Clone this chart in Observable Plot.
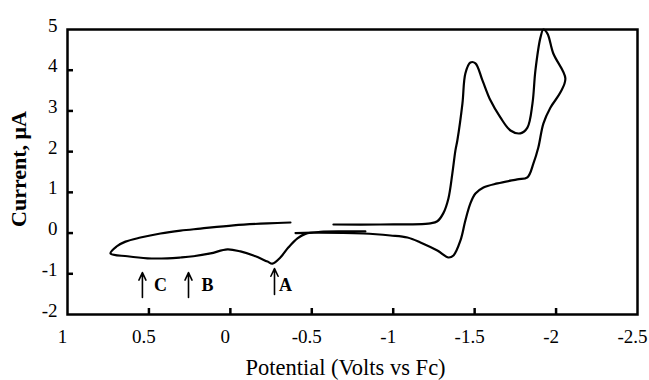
<!DOCTYPE html>
<html>
<head>
<meta charset="utf-8">
<script src="https://cdn.jsdelivr.net/npm/d3@7"></script>
<script src="https://cdn.jsdelivr.net/npm/@observablehq/plot@0.6"></script>
<style>
  html, body { margin: 0; padding: 0; background: #fff; }
</style>
</head>
<body>
<div id="chart"></div>
<script>
// Scan 1: small loop (upper line leftwards, tip, lower line with C, B, A features)
const loop1V = [-0.369, -0.228, -0.019, 0.184, 0.306, 0.429, 0.552, 0.644, 0.699, 0.736,
                0.632, 0.509, 0.386, 0.306, 0.227, 0.122, 0.018, -0.062, -0.142, -0.228,
                -0.258, -0.307, -0.357, -0.412, -0.461, -0.553, -0.707, -0.829];
const loop1I = [0.26, 0.24, 0.19, 0.11, 0.06, -0.01, -0.11, -0.21, -0.33, -0.50,
                -0.57, -0.62, -0.62, -0.60, -0.57, -0.50, -0.40, -0.45, -0.55, -0.70,
                -0.75, -0.60, -0.35, -0.13, -0.02, 0.03, 0.04, 0.04];

// Scan 2: large loop (two reduction waves, switching point, return)
const loop2V = [-0.633, -0.921, -1.228, -1.271, -1.308, -1.339, -1.363, -1.382, -1.394, -1.425,
                -1.443, -1.474, -1.505, -1.548, -1.597, -1.658, -1.720, -1.781, -1.824, -1.855,
                -1.873, -1.904, -1.922, -1.947, -1.983, -2.057, -2.026, -1.965, -1.922, -1.891,
                -1.861, -1.824, -1.762, -1.640, -1.554, -1.505, -1.474, -1.443, -1.413, -1.370,
                -1.339, -1.271, -1.167, -1.087, -0.983, -0.817, -0.510, -0.400];
const loop2I = [0.21, 0.21, 0.24, 0.29, 0.49, 0.85, 1.46, 2.03, 2.28, 3.18,
                3.92, 4.19, 4.17, 3.75, 3.26, 2.84, 2.52, 2.45, 2.59, 3.18,
                3.99, 4.80, 5.00, 4.90, 4.41, 3.80, 3.45, 3.08, 2.69, 2.10,
                1.71, 1.37, 1.32, 1.22, 1.12, 0.97, 0.73, 0.31, -0.18, -0.55,
                -0.60, -0.43, -0.23, -0.11, -0.06, -0.01, 0.01, 0.00];

const xTicks = [1, 0.5, 0, -0.5, -1, -1.5, -2, -2.5];
const xTickLabels = ["1", "0.5", "0", "-0.5", "-1", "-1.5", "-2", "-2.5"];
const yTicks = [-2, -1, 0, 1, 2, 3, 4, 5];
const yTickLabels = ["-2", "-1", "0", "1", "2", "3", "4", "5"];

const peakNames = ["C", "B", "A"];
const arrowV = [0.540, 0.257, -0.271];
const arrowTopI = [-0.97, -0.97, -0.87];
const arrowBottomI = [-1.58, -1.58, -1.51];
const letterV = [0.429, 0.141, -0.338];
const letterI = [-1.29, -1.29, -1.29];

const xTitle = "Potential (Volts vs Fc)";
const yTitle = "Current, \u03bcA";

const cv = [];
loop1V.forEach((v, i) => cv.push({scan: 1, V: v, I: loop1I[i]}));
loop2V.forEach((v, i) => cv.push({scan: 2, V: v, I: loop2I[i]}));

const arrows = peakNames.map((n, i) => ({name: n, x: arrowV[i], y1: arrowBottomI[i], y2: arrowTopI[i], lx: letterV[i], ly: letterI[i]}));

const width = 649, height = 380;
const mL = 67, mR = 12, mT = 29, mB = 66;
const fw = width - mL - mR, fh = height - mT - mB;
const tickLen = 6;

const chart = Plot.plot({
  width, height,
  marginLeft: mL, marginRight: mR, marginTop: mT, marginBottom: mB,
  style: {fontFamily: "'Liberation Serif', 'Times New Roman', serif", fontSize: "19px", color: "#000", background: "#fff", overflow: "visible"},
  x: {domain: [1, -2.5], axis: null},
  y: {domain: [-2, 5], axis: null},
  marks: [
    Plot.line(cv, {x: "V", y: "I", z: "scan", curve: "catmull-rom", stroke: "#000", strokeWidth: 2.2, strokeLinejoin: "round", strokeLinecap: "round"}),
    Plot.ruleX(xTicks.slice(1, -1), {x: d => d, insetTop: fh - tickLen, stroke: "#000", strokeWidth: 2.5}),
    Plot.ruleY(yTicks.slice(1, -1), {y: d => d, insetRight: fw - tickLen, stroke: "#000", strokeWidth: 2.5}),
    Plot.frame({stroke: "#000", strokeWidth: 2.5}),
    Plot.text(xTicks, {x: d => d, frameAnchor: "bottom", text: (d, i) => xTickLabels[i], dy: 22, dx: -5, fontSize: 19, lineAnchor: "middle", fill: "#000"}),
    Plot.text(yTicks, {y: d => d, frameAnchor: "left", text: (d, i) => yTickLabels[i], textAnchor: "end", dx: -10, dy: -4, fontSize: 19, lineAnchor: "middle", fill: "#000"}),
    Plot.text([xTitle], {frameAnchor: "bottom", textAnchor: "middle", dy: 53, dx: -7, fontSize: 22.5, lineAnchor: "middle", fill: "#000"}),
    Plot.text([yTitle], {frameAnchor: "left", textAnchor: "middle", rotate: -90, dx: -49, dy: -3, fontSize: 22, fontWeight: "bold", lineAnchor: "middle", fill: "#000"}),
    Plot.arrow(arrows, {x1: "x", x2: "x", y1: "y1", y2: "y2", stroke: "#000", strokeWidth: 1.6, headLength: 8, headAngle: 50}),
    Plot.text(arrows, {x: "lx", y: "ly", text: "name", fontSize: 18, fontWeight: "bold", lineAnchor: "middle", fill: "#000"})
  ]
});
document.getElementById("chart").appendChild(chart);
</script>
</body>
</html>
